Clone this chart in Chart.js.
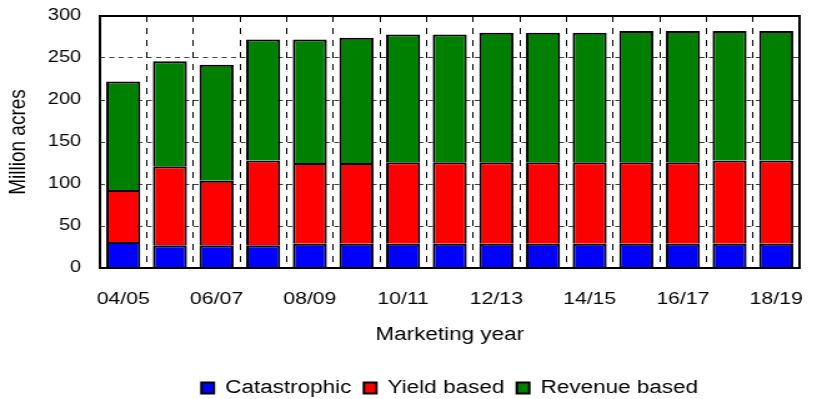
<!DOCTYPE html>
<html>
<head>
<meta charset="utf-8">
<script src="https://cdn.jsdelivr.net/npm/chart.js@4/dist/chart.umd.min.js"></script>
<style>
html,body{margin:0;padding:0;background:#fff;overflow:hidden}
#wrap{width:822px;height:399px;overflow:hidden;position:relative}
#c{display:block;transform:scaleX(1.24924);transform-origin:0 0}
</style>
</head>
<body>
<div id="wrap"><canvas id="c" width="658" height="399"></canvas></div>
<script>
const categories = ['04/05','05/06','06/07','07/08','08/09','09/10','10/11','11/12','12/13','13/14','14/15','15/16','16/17','17/18','18/19'];
const catastrophic = [31,27,27,27,29,29,29,29,29,29,29,29,29,29,29];
const yieldBased   = [62,94,77,101,96,96,97,97,97,97,97,97,97,99,99];
const revenueBased = [129,125,138,144,147,149,152,152,154,154,154,156,156,154,154];
const seriesNames = ['Catastrophic','Yield based','Revenue based'];
const yTicks = [0,50,100,150,200,250,300];

const FONT = '"Liberation Sans", Arial, Helvetica, sans-serif';
Chart.defaults.color = '#000';
Chart.defaults.font.family = FONT;

const framePlugin = {
  id: 'frame',
  afterDatasetsDraw(chart) {
    const a = chart.chartArea, ctx = chart.ctx;
    ctx.save();
    ctx.strokeStyle = '#000';
    ctx.lineWidth = 2;
    ctx.strokeRect(a.left, a.top, a.right - a.left, a.bottom - a.top);
    ctx.restore();
  }
};

function ds(label, data, color) {
  return {
    label, data,
    backgroundColor: color,
    borderColor: '#000',
    borderWidth: 2,
    borderSkipped: 'start',
    barPercentage: 0.73,
    categoryPercentage: 1.0
  };
}

new Chart(document.getElementById('c'), {
  type: 'bar',
  data: {
    labels: categories,
    datasets: [
      ds(seriesNames[0], catastrophic, '#0000ff'),
      ds(seriesNames[1], yieldBased, '#ff0000'),
      ds(seriesNames[2], revenueBased, '#008000')
    ]
  },
  options: {
    responsive: false,
    animation: false,
    layout: { padding: { top: 16, right: 18, bottom: -8, left: 0 } },
    plugins: {
      tooltip: { enabled: false },
      legend: {
        position: 'bottom',
        fullSize: false,
        labels: {
          font: { size: 18, family: FONT },
          color: '#000',
          boxWidth: 10,
          boxHeight: 11,
          padding: 10
        }
      }
    },
    scales: {
      x: {
        stacked: true,
        offset: true,
        grid: { display: true, offset: true, color: '#000', lineWidth: 1, drawTicks: false },
        border: { display: false, dash: [6, 6] },
        ticks: {
          autoSkip: false, maxRotation: 0, minRotation: 0, padding: 21,
          font: { size: 17, family: FONT },
          callback: function(v, i) { return i % 2 === 0 ? this.getLabelForValue(v) : ''; }
        },
        title: { display: true, text: 'Marketing year', font: { size: 18, family: FONT }, padding: { top: 0, bottom: 23 } },
        afterFit(s) { s.height = 101; s.paddingLeft = 0; s.paddingRight = 0; }
      },
      y: {
        stacked: true,
        min: 0, max: 300,
        afterBuildTicks(s) { s.ticks = yTicks.map(v => ({ value: v })); },
        grid: { display: true, color: '#444', lineWidth: 1, drawTicks: false },
        border: { display: false, dash: [4, 3.5] },
        ticks: { padding: 15, font: { size: 16, family: FONT } },
        title: { display: true, text: 'Million acres', font: { size: 19, family: FONT }, padding: { top: 3, bottom: 0 } },
        afterFit(s) { s.width = 80; s.paddingTop = 0; s.paddingBottom = 0; }
      }
    }
  },
  plugins: [framePlugin]
});
</script>
</body>
</html>
